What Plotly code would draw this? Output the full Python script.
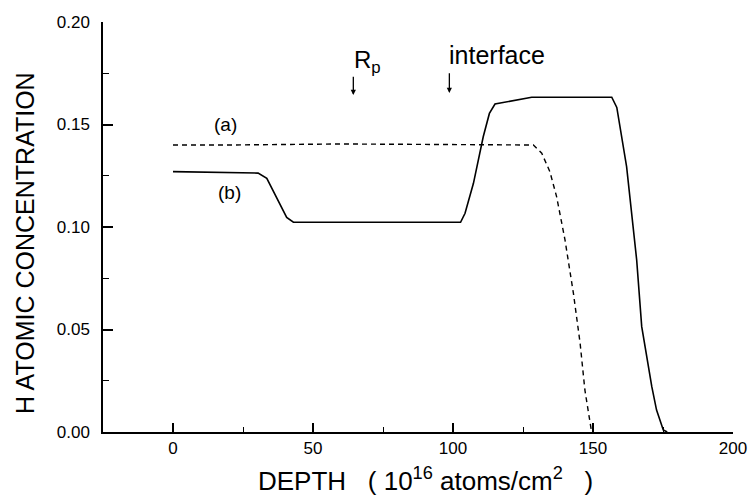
import plotly.graph_objects as go

# Curve (a): dashed
xa = [0, 20, 60, 100, 128.7, 131.7, 134.6, 137, 140, 143, 145.4, 147.1, 149.5]
ya = [0.140, 0.140, 0.1405, 0.140, 0.140, 0.136, 0.127, 0.1148, 0.0937, 0.0677, 0.0433, 0.0205, 0.0]

# Curve (b): solid
xb = [0, 30.4, 33.5, 40.6, 43, 60, 102.7, 104.3, 107.3, 110.8, 113, 115, 128.1, 156.7,
      158.5, 162, 165.6, 167.4, 171, 172.7, 175.1, 176.5]
yb = [0.127, 0.1263, 0.1237, 0.1047, 0.1024, 0.1024, 0.1023, 0.1067, 0.1213, 0.144, 0.1554, 0.160,
      0.1633, 0.1633, 0.1583, 0.1294, 0.0839, 0.0514, 0.0221, 0.0107, 0.001, 0.0]

x_ticks = [0, 50, 100, 150, 200]
y_ticks = [0.00, 0.05, 0.10, 0.15, 0.20]
y_tick_labels = ["0.00", "0.05", "0.10", "0.15", "0.20"]

fig = go.Figure()
fig.add_trace(go.Scatter(x=xa, y=ya, mode="lines",
                         line=dict(color="black", width=1.4, dash="5px,4px")))
fig.add_trace(go.Scatter(x=xb, y=yb, mode="lines",
                         line=dict(color="black", width=1.6)))

font = "Liberation Sans, Arial, sans-serif"

fig.update_layout(
    width=749, height=497,
    margin=dict(l=103, r=16, t=22, b=65, autoexpand=False),
    paper_bgcolor="white", plot_bgcolor="white",
    showlegend=False,
    font=dict(family=font, color="black"),
    xaxis=dict(range=[-25, 200], tickvals=x_ticks, ticks="inside", ticklen=9, tickwidth=1.5,
               tickcolor="black", showline=True, linecolor="black", linewidth=1.5,
               showgrid=False, zeroline=False, tickfont=dict(size=17, family=font),
               automargin=False,
               minor=dict(tickvals=[25, 75, 125, 175], ticks="inside", ticklen=5, tickwidth=1.2,
                          tickcolor="black", showgrid=False),
               ticklabelstandoff=0),
    yaxis=dict(range=[0, 0.2], tickvals=y_ticks, ticktext=y_tick_labels, ticks="inside",
               ticklen=10, tickwidth=1.5, tickcolor="black", showline=True, linecolor="black",
               linewidth=1.5, showgrid=False, zeroline=False, tickfont=dict(size=17, family=font),
               automargin=False,
               minor=dict(tickvals=[0.025, 0.075, 0.125, 0.175], ticks="inside", ticklen=6,
                          tickwidth=1.2, tickcolor="black", showgrid=False),
               ticklabelstandoff=8),
)

annos = [
    dict(text="H ATOMIC CONCENTRATION", xref="paper", yref="paper", x=0, y=0.5,
         xshift=-78, yshift=-16, textangle=-90, showarrow=False, font=dict(size=25, family=font),
         xanchor="center", yanchor="middle"),
    dict(text="DEPTH&nbsp;&nbsp;&nbsp;(&nbsp;10<sup>16</sup>&nbsp;atoms/cm<sup>2</sup>&nbsp;&nbsp;&nbsp;)",
         xref="paper", yref="paper",
         x=0.512, y=0, yshift=-47, showarrow=False, font=dict(size=26, family=font),
         xanchor="center", yanchor="middle"),
    dict(text="(a)", x=18.6, y=0.1498, showarrow=False, font=dict(size=19, family=font)),
    dict(text="(b)", x=20, y=0.1166, showarrow=False, font=dict(size=19, family=font)),
    dict(text="R<sub>p</sub>", x=64.0, y=0.1805, xanchor="left", yanchor="middle",
         showarrow=False, font=dict(size=24, family=font)),
    dict(text="interface", x=98.0, y=0.184, xanchor="left", yanchor="middle",
         showarrow=False, font=dict(size=25, family=font)),
    dict(text="", x=64.4, y=0.1644, ax=64.4, ay=0.174, axref="x", ayref="y",
         showarrow=True, arrowhead=2, arrowsize=0.8, arrowwidth=1.3, arrowcolor="black"),
    dict(text="", x=98.7, y=0.1654, ax=98.7, ay=0.1757, axref="x", ayref="y",
         showarrow=True, arrowhead=2, arrowsize=0.8, arrowwidth=1.3, arrowcolor="black"),
]
fig.update_layout(annotations=annos)

fig.write_html("out.html")
